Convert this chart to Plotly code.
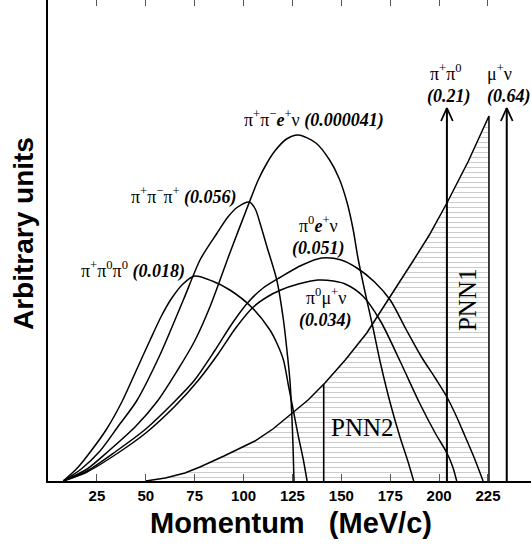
import plotly.graph_objects as go
import numpy as np

# ---------------- data (momentum in MeV/c, arbitrary units) ----------------
p_ppp00 = [7.8, 15, 22, 30, 38, 45, 52, 58, 63, 69, 75, 84, 93, 104, 113.5, 117, 120.4, 123, 125.5, 128, 130.5, 132.5]
h_ppp00 = [0, 13, 30, 52, 80, 110, 140, 165, 182, 197, 205, 200, 191, 174, 151, 138, 121, 95, 70, 45, 22, 0]

p_pmp = [7.8, 17, 26.6, 36, 45.3, 57, 69.2, 78, 86.5, 92, 97, 103, 106, 108.4, 112, 117, 120.4, 122.5, 123.7, 124.6, 125.3, 125.8]
h_pmp = [0, 12, 30, 55, 80, 125, 181, 222, 248, 264, 274, 279, 272, 258, 234, 201, 161, 125, 101, 70, 35, 0]

p_ke4 = [7.8, 20, 31, 45, 56, 66, 75, 83, 93, 103, 107.5, 112, 116, 122, 128, 137, 144, 149, 153, 156, 158.6, 162, 166, 170, 175, 180, 184, 187]
h_ke4 = [0, 12, 30, 55, 80, 110, 140, 175, 228, 279, 301, 318, 330, 342, 346, 338, 321, 302, 278, 252, 222, 190, 155, 118, 78, 44, 20, 0]

p_ke3 = [7.8, 20, 35, 50, 65, 75, 85.5, 94, 102, 110, 119, 130, 140, 150, 158, 167, 175, 183, 191, 198, 204, 209, 213, 218, 222.5]
h_ke3 = [0, 10, 30, 52, 80, 101, 131, 157, 178, 193, 204, 216, 223, 221, 213, 199, 181, 152, 124, 103, 84, 64, 46, 23, 0]

p_km3 = [7.8, 20, 35, 50, 65, 77, 87, 96, 105, 112, 119, 128, 138, 146, 152, 161, 170, 180, 190, 198, 204, 207, 209]
h_km3 = [0, 9, 27, 48, 75, 101, 127, 153, 174, 184, 191, 197, 201, 200, 197, 185, 160, 120, 78, 48, 28, 14, 0]

p_pnn = [50, 60, 70, 77.7, 90, 105.8, 115, 123.7, 133, 141.6, 152, 163, 174, 187, 195, 204, 215, 224.5]
h_pnn = [0, 3, 8, 14, 25, 40, 52, 66, 81, 98, 121, 148, 181, 221, 246, 278, 320, 361]
pnn_edge = 225.5
pnn_edge_top = 365
pnn2_edge = 141

arrow_p = [204, 234.6]          # K -> pi+ pi0, K -> mu+ nu
arrow_top = 373

tick_vals = [25, 50, 75, 100, 125, 150, 175, 200, 225]

# ---------------- figure ----------------
W, H = 531, 546
L, B = 48, 65
XMAX = 247
YMAX = 481

fig = go.Figure()

# hatched PNN region
fig.add_trace(go.Scatter(
    x=p_pnn + [pnn_edge, pnn_edge], y=h_pnn + [pnn_edge_top, 0],
    mode="lines", fill="tozeroy", fillcolor="rgba(0,0,0,0)",
    fillpattern=dict(shape="-", size=5, solidity=0.14, fgcolor="#666666", bgcolor="white"),
    line=dict(color="black", width=1.5), hoverinfo="skip", showlegend=False))

curve_line = dict(color="black", width=1.5, shape="spline", smoothing=0.8)
for px_, py_ in [(p_ppp00, h_ppp00), (p_pmp, h_pmp), (p_ke4, h_ke4), (p_ke3, h_ke3), (p_km3, h_km3)]:
    fig.add_trace(go.Scatter(x=px_, y=py_, mode="lines", line=curve_line,
                             showlegend=False, hoverinfo="skip"))

# PNN2 boundary line
top2 = float(np.interp(pnn2_edge, p_pnn, h_pnn))
fig.add_trace(go.Scatter(x=[pnn2_edge, pnn2_edge], y=[0, top2], mode="lines",
                         line=dict(color="black", width=1.6), showlegend=False, hoverinfo="skip"))

# two-body arrows (open chevron heads)
dx, dy = 3.0, 13
for ap in arrow_p:
    fig.add_trace(go.Scatter(x=[ap, ap], y=[0, arrow_top], mode="lines",
                             line=dict(color="black", width=2), showlegend=False, hoverinfo="skip"))
    fig.add_trace(go.Scatter(x=[ap - dx, ap, ap + dx], y=[arrow_top - dy, arrow_top, arrow_top - dy],
                             mode="lines", line=dict(color="black", width=1.8),
                             showlegend=False, hoverinfo="skip"))

serif = "Liberation Serif"
sans = "Liberation Sans"
LS = 18

def lab(text, x, y, size=LS, yanchor="middle", **kw):
    fig.add_annotation(text=text, x=x, y=y, xref="x", yref="y", showarrow=False,
                       font=dict(family=serif, size=size, color="black"), borderpad=0,
                       xanchor="center", yanchor=yanchor, **kw)

def lab2(top, bottom, x_top, x_bot, y_mid):
    lab(top, x_top, y_mid, yanchor="bottom")
    lab(bottom, x_bot, y_mid, yanchor="top")

lab("π<sup>+</sup>π<sup>0</sup>π<sup>0</sup> <b><i>(0.018)</i></b>", 43.7, 211)
lab("π<sup>+</sup>π<sup>−</sup>π<sup>+</sup> <b><i>(0.056)</i></b>", 69.6, 285)
lab("π<sup>+</sup>π<sup>−</sup><b><i>e</i></b><sup>+</sup>ν <b><i>(0.000041)</i></b>", 136, 362)
lab2("π<sup>0</sup><b><i>e</i></b><sup>+</sup>ν", "<b><i>(0.051)</i></b>", 138.1, 138.1, 244)
lab2("π<sup>0</sup>μ<sup>+</sup>ν", "<b><i>(0.034)</i></b>", 142.1, 142.1, 172)
lab2("π<sup>+</sup>π<sup>0</sup>", "<b><i>(0.21)</i></b>", arrow_p[0] - 0.5, arrow_p[0] + 1, 396)
lab2("μ<sup>+</sup>ν", "<b><i>(0.64)</i></b>", arrow_p[1] - 3.5, arrow_p[1] + 1, 396)
lab("PNN2", 160.6, 54, size=25)
lab("PNN1", 214.3, 181, size=25, textangle=-90)

# axis titles
fig.add_annotation(text="<b>Momentum   (MeV/c)</b>", xref="paper", yref="paper",
                   x=(291 - L) / (W - L), y=(H - B - 523) / (H - B), showarrow=False,
                   font=dict(family=sans, size=29, color="black"), xanchor="center", yanchor="middle")
fig.add_annotation(text="<b>Arbitrary units</b>", xref="paper", yref="paper",
                   x=(23 - L) / (W - L), y=(H - B - 234) / (H - B), showarrow=False, textangle=-90,
                   font=dict(family=sans, size=28, color="black"), xanchor="center", yanchor="middle")

fig.update_layout(
    width=W, height=H, margin=dict(l=L, r=0, t=0, b=B),
    paper_bgcolor="white", plot_bgcolor="white", showlegend=False,
    xaxis=dict(range=[0, XMAX], showgrid=False, zeroline=False, showline=True, linewidth=2,
               linecolor="black", ticks="inside", ticklen=7, tickwidth=1, tickcolor="#555",
               tickvals=tick_vals, tickfont=dict(family=sans, size=15, color="black", weight="bold")),
    xaxis2=dict(range=[0, XMAX], overlaying="x", side="top", showgrid=False, zeroline=False,
                showline=False, ticks="inside", ticklen=6, tickwidth=1, tickcolor="#555",
                tickvals=tick_vals, showticklabels=False),
    yaxis=dict(range=[0, YMAX], showgrid=False, zeroline=False, showline=True, linewidth=2,
               linecolor="black", ticks="", showticklabels=False),
)
# invisible point to activate the top axis
fig.add_trace(go.Scatter(x=[0], y=[0], xaxis="x2", mode="markers", marker=dict(opacity=0),
                         showlegend=False, hoverinfo="skip"))

fig.write_html("out.html")
